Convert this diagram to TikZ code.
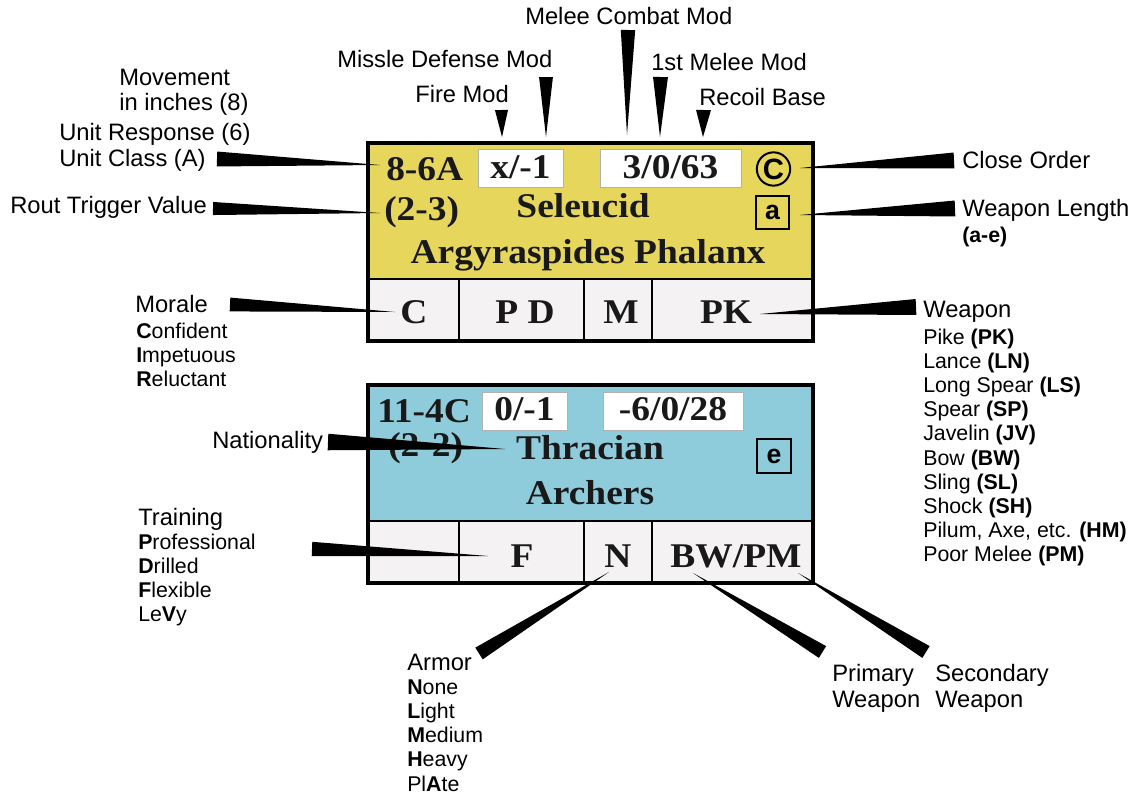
\documentclass[tikz,border=0pt]{standalone}
\usepackage{fontspec}
\setmainfont{Liberation Sans}
\newfontfamily\cntserif{Liberation Serif}[FakeStretch=1.08]
\usetikzlibrary{calc}

\definecolor{cntyellow}{RGB}{231,214,92}
\definecolor{cntblue}{RGB}{142,204,220}
\definecolor{cellgrey}{RGB}{244,242,242}

% tapered pointer: base centre, half width, tip
\newcommand{\wedgeptr}[3]{\fill[ptr] ($(#1)!#2!90:(#3)$) -- ($(#1)!#2!-90:(#3)$) -- (#3) -- cycle;}

\begin{document}
\begin{tikzpicture}[x=0.75pt, y=-0.75pt,
  lbl/.style={font=\fontsize{17.8}{21}\selectfont, inner sep=0pt, anchor=base west},
  sub/.style={font=\fontsize{16}{18}\selectfont, inner sep=0pt, anchor=base west},
  cnt/.style={font=\cntserif\bfseries\fontsize{26}{30}\selectfont, inner sep=0pt, anchor=base, text=black!90},
  valbox/.style={draw=gray!60, fill=white, line width=0.75pt},
  keybox/.style={draw, line width=1.5pt, inner sep=0pt, font=\bfseries\fontsize{20}{22}\selectfont},
  ptr/.style={fill=black}]

  \useasboundingbox (0,0) rectangle (1133,793);

  % Counter frames (top one yellow, bottom one blue)
  \foreach \dy/\col in {0/cntyellow, 242/cntblue} {
    \fill[\col] (368,143+\dy) rectangle (813,279+\dy);
    \fill[cellgrey] (368,279+\dy) rectangle (813,341+\dy);
    \draw[line width=1.5pt] (368,279+\dy) -- (813,279+\dy);
    \foreach \x in {459,584,652}
      \draw[line width=1.5pt] (\x,279+\dy) -- (\x,341+\dy);
    \draw[line width=3pt] (368,143+\dy) rectangle (813,341+\dy);
  }

  % Counter 1: Seleucid
  \draw[valbox] (478,149) rectangle (563,187);
  \draw[valbox] (600,149) rectangle (741,187);
  \node[cnt, anchor=base west] (c1move) at (386,180) {8-6A};
  \node[cnt] (c1fire) at (520.5,178) {x/-1};
  \node[cnt] (c1melee) at (670.5,178) {3/0/63};
  \node[keybox, circle, minimum size=25pt, font=\bfseries\fontsize{22}{24}\selectfont] (c1order) at (773.5,169) {C};
  \node[cnt, anchor=base west] (c1rout) at (384,220) {(2-3)};
  \node[cnt] (c1nat) at (583,217) {Seleucid};
  \node[keybox, minimum size=24.75pt] (c1len) at (772.5,212.5) {a};
  \node[cnt] (c1name) at (588,263) {Argyraspides Phalanx};
  \node[cnt] (c1mor) at (414,323) {C};
  \node[cnt] (c1trn) at (525,323) {P D};
  \node[cnt] (c1arm) at (621,323) {M};
  \node[cnt] (c1wpn) at (726,323) {PK};

  % Counter 2: Thracian
  \draw[valbox] (482,392) rectangle (567,430);
  \draw[valbox] (603,392) rectangle (743,430);
  \node[cnt, anchor=base west] (c2move) at (377,422) {11-4C};
  \node[cnt] (c2fire) at (524.5,420) {0/-1};
  \node[cnt] (c2melee) at (673,420) {-6/0/28};
  \node[cnt, anchor=base west] (c2rout) at (388,456) {(2-2)};
  \node[cnt] (c2nat) at (590,459) {Thracian};
  \node[keybox, minimum size=25.5pt] (c2len) at (774,456) {e};
  \node[cnt] (c2name) at (590,504) {Archers};
  \node[cnt] (c2trn) at (522,567) {F};
  \node[cnt] (c2arm) at (618,567) {N};
  \node[cnt] (c2wpn) at (736,567) {BW/PM};

  % Top labels
  \node[lbl] (melee) at (525,24.5) {Melee Combat Mod};
  \node[lbl] (missle) at (337,67.5) {Missle Defense Mod};
  \node[lbl] (first) at (651,70.5) {1st Melee Mod};
  \node[lbl] (fire) at (415,102.5) {Fire Mod};
  \node[lbl] (recoil) at (699,105.5) {Recoil Base};

  % Left labels
  \node[lbl] (move) at (119,85) {Movement};
  \node[lbl] (inch) at (119,110) {in inches (8)};
  \node[lbl] (resp) at (59,140) {Unit Response (6)};
  \node[lbl] (class) at (59,166) {Unit Class (A)};
  \node[lbl] (rout) at (10,213) {Rout Trigger Value};
  \node[lbl] (morale) at (135,312) {Morale};
  \foreach \t [count=\i] in {\textbf{C}onfident, \textbf{I}mpetuous, \textbf{R}eluctant}
    \node[sub] (mor\i) at (136,314+24*\i) {\t};
  \node[lbl] (nation) at (212,448) {Nationality};
  \node[lbl] (train) at (138,525) {Training};
  \foreach \t [count=\i] in {\textbf{P}rofessional, \textbf{D}rilled, \textbf{F}lexible, Le\textbf{V}y}
    \node[sub] (trn\i) at (138,525+24*\i) {\t};

  % Bottom labels
  \node[lbl] (armor) at (407,670) {Armor};
  \foreach \t [count=\i] in {\textbf{N}one, \textbf{L}ight, \textbf{M}edium, \textbf{H}eavy, Pl\textbf{A}te}
    \node[sub] (arm\i) at (407,670.5+24.1*\i) {\t};
  \node[lbl] (prim) at (832,681) {Primary};
  \node[lbl] (primw) at (832,707) {Weapon};
  \node[lbl] (sec) at (935,681) {Secondary};
  \node[lbl] (secw) at (935,707) {Weapon};

  % Right labels
  \node[lbl] (close) at (962,168) {Close Order};
  \node[lbl] (length) at (962,216) {Weapon Length};
  \node[sub] (range) at (962,242) {\textbf{(a-e)}};
  \node[lbl] (weapon) at (923,317) {Weapon};
  \foreach \t [count=\i] in {Pike \textbf{(PK)}, Lance \textbf{(LN)}, Long Spear \textbf{(LS)},
      Spear \textbf{(SP)}, Javelin \textbf{(JV)}, Bow \textbf{(BW)}, Sling \textbf{(SL)},
      Shock \textbf{(SH)}, {Pilum, Axe, etc. \textbf{(HM)}}, Poor Melee \textbf{(PM)}}
    \node[sub] (wpn\i) at (923,319.8+24.2*\i) {\t};

  % Pointer ends
  \coordinate (fireB) at (501.5,110);   \coordinate (fireT) at (502,137);
  \coordinate (missB) at (546,77);      \coordinate (missT) at (546,137);
  \coordinate (melB) at (628,30);       \coordinate (melT) at (627,135);
  \coordinate (firstB) at (660.5,77);   \coordinate (firstT) at (660,137);
  \coordinate (recB) at (703.5,110);    \coordinate (recT) at (703,137);
  \coordinate (classB) at (217,159);    \coordinate (classT) at (380,165);
  \coordinate (routB) at (213,208.5);   \coordinate (routT) at (380,213);
  \coordinate (morB) at (230,304.5);    \coordinate (morT) at (395,312);
  \coordinate (natB) at (328,442);      \coordinate (natT) at (505,449);
  \coordinate (trnB) at (312,549);      \coordinate (trnT) at (488,556);
  \coordinate (closeB) at (954,160.5);  \coordinate (closeT) at (800,168);
  \coordinate (lenB) at (955,208.5);    \coordinate (lenT) at (800,215);
  \coordinate (wpnB) at (916,307);      \coordinate (wpnT) at (760,314);
  \coordinate (armB) at (479,653.5);    \coordinate (armT) at (609,572);
  \coordinate (primB) at (822.5,652);   \coordinate (primT) at (693,573);
  \coordinate (secB) at (926,652);      \coordinate (secT) at (798,573);

  % Pointers
  \wedgeptr{fireB}{4.9pt}{fireT}
  \wedgeptr{missB}{5.2pt}{missT}
  \wedgeptr{melB}{5.4pt}{melT}
  \wedgeptr{firstB}{5.6pt}{firstT}
  \wedgeptr{recB}{5.6pt}{recT}
  \wedgeptr{classB}{5.6pt}{classT}
  \wedgeptr{routB}{4.9pt}{routT}
  \wedgeptr{morB}{5.2pt}{morT}
  \wedgeptr{natB}{6.2pt}{natT}
  \wedgeptr{trnB}{5.4pt}{trnT}
  \wedgeptr{closeB}{6pt}{closeT}
  \wedgeptr{lenB}{6pt}{lenT}
  \wedgeptr{wpnB}{6pt}{wpnT}
  \wedgeptr{armB}{5.2pt}{armT}
  \wedgeptr{primB}{5.2pt}{primT}
  \wedgeptr{secB}{5.2pt}{secT}

\end{tikzpicture}
\end{document}
